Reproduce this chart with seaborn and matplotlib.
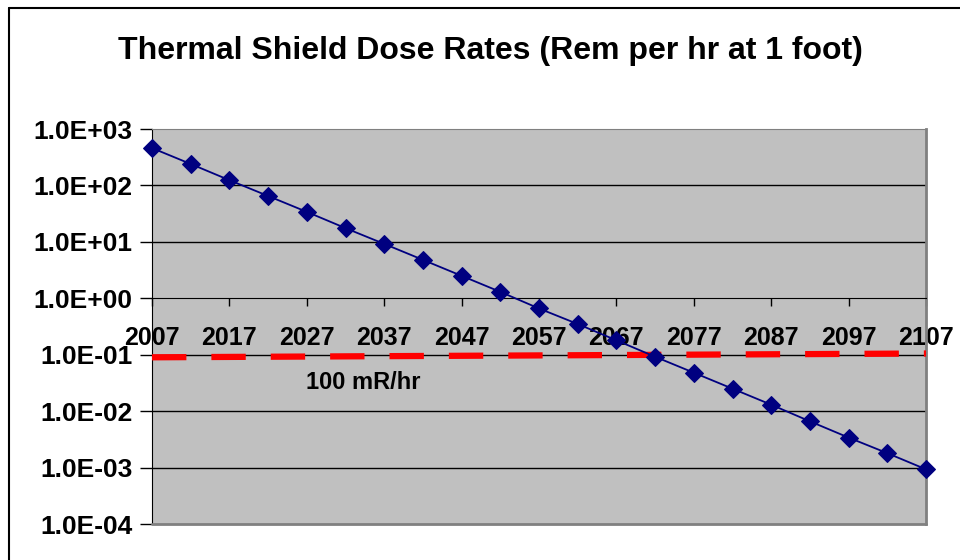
import matplotlib
matplotlib.use("Agg")
import matplotlib.pyplot as plt
import matplotlib.ticker as mticker
import seaborn as sns
import pandas as pd

# dose rate, every 5 years
years = [2007, 2012, 2017, 2022, 2027, 2032, 2037, 2042, 2047, 2052, 2057,
         2062, 2067, 2072, 2077, 2082, 2087, 2092, 2097, 2102, 2107]
dose = [460, 240, 124, 65, 34, 17.5, 9.2, 4.8, 2.5, 1.3, 0.66,
        0.35, 0.18, 0.092, 0.048, 0.025, 0.013, 0.0066, 0.0034, 0.0018, 0.00093]
limit_years = [2007, 2107]
limit_vals = [0.09, 0.105]
tick_years = list(range(2007, 2108, 10))
tick_doses = [1e-4, 1e-3, 1e-2, 1e-1, 1e0, 1e1, 1e2, 1e3]

df = pd.DataFrame({"year": years, "dose": dose})
lim = pd.DataFrame({"year": limit_years, "dose": limit_vals})

sns.set_style("white")
plt.rcParams["font.family"] = ["Liberation Sans", "DejaVu Sans"]
plt.rcParams["font.weight"] = "bold"
plt.rcParams["text.color"] = "black"
plt.rcParams["xtick.color"] = "black"
plt.rcParams["ytick.color"] = "black"

fig = plt.figure(figsize=(9.6, 5.6), dpi=100)
ax = fig.add_axes([152 / 960, 1 - 524 / 560, (926 - 152) / 960, (524 - 129) / 560])
ax.set_facecolor("#C0C0C0")

ax.set_yscale("log")
ax.set_ylim(1e-4, 1e3)
ax.set_xlim(2007, 2107)

for y in [1e-3, 1e-2, 1e-1, 1e1, 1e2]:
    ax.axhline(y, color="black", lw=1, zorder=1)

sns.lineplot(data=lim, x="year", y="dose", ax=ax, color="#FF0000", lw=4.5,
             dashes=False, zorder=3, clip_on=False)
ax.lines[-1].set_dashes((5.5, 4))
sns.lineplot(data=df, x="year", y="dose", ax=ax, color="#000080", lw=1.3,
             marker="D", markersize=9, markeredgecolor="#000080", zorder=4,
             clip_on=False)

# x axis crosses at 1.0
ax.spines["bottom"].set_position(("data", 1))
ax.spines["bottom"].set_color("black")
ax.spines["left"].set_color("black")
ax.spines["top"].set_color("#808080")
ax.spines["right"].set_color("#808080")
ax.spines["right"].set_linewidth(2)
ax.plot([0, 1], [0, 0], transform=ax.transAxes, color="#808080", lw=2,
        clip_on=False, zorder=5)

ax.set_xticks(tick_years)
ax.set_yticks(tick_doses)
ax.yaxis.set_minor_locator(mticker.NullLocator())
ax.yaxis.set_major_formatter(mticker.FuncFormatter(lambda v, p: f"{v:.1E}"))
ax.tick_params(axis="y", direction="out", length=9, width=1, color="black",
               labelsize=19, pad=5, left=True, labelcolor="black")
ax.tick_params(axis="x", direction="out", length=6, width=1, color="black",
               labelsize=18, pad=14, bottom=True, labelcolor="black")
for lab in ax.get_xticklabels() + ax.get_yticklabels():
    lab.set_fontweight("bold")
ax.set_xlabel("")
ax.set_ylabel("")

ax.text(2034.3, 0.032, "100 mR/hr", fontsize=17, fontweight="bold",
        ha="center", va="center")

fig.text(490 / 960, 1 - 51 / 560, "Thermal Shield Dose Rates (Rem per hr at 1 foot)",
         fontsize=23, fontweight="bold", ha="center", va="center")

# chart frame
fig.add_artist(plt.Line2D([9 / 960, 1], [1 - 8 / 560, 1 - 8 / 560], color="black",
                          lw=1.5, transform=fig.transFigure))
fig.add_artist(plt.Line2D([9 / 960, 9 / 960], [0, 1 - 8 / 560], color="black",
                          lw=1.5, transform=fig.transFigure))

fig.savefig("out.png", dpi=100)
